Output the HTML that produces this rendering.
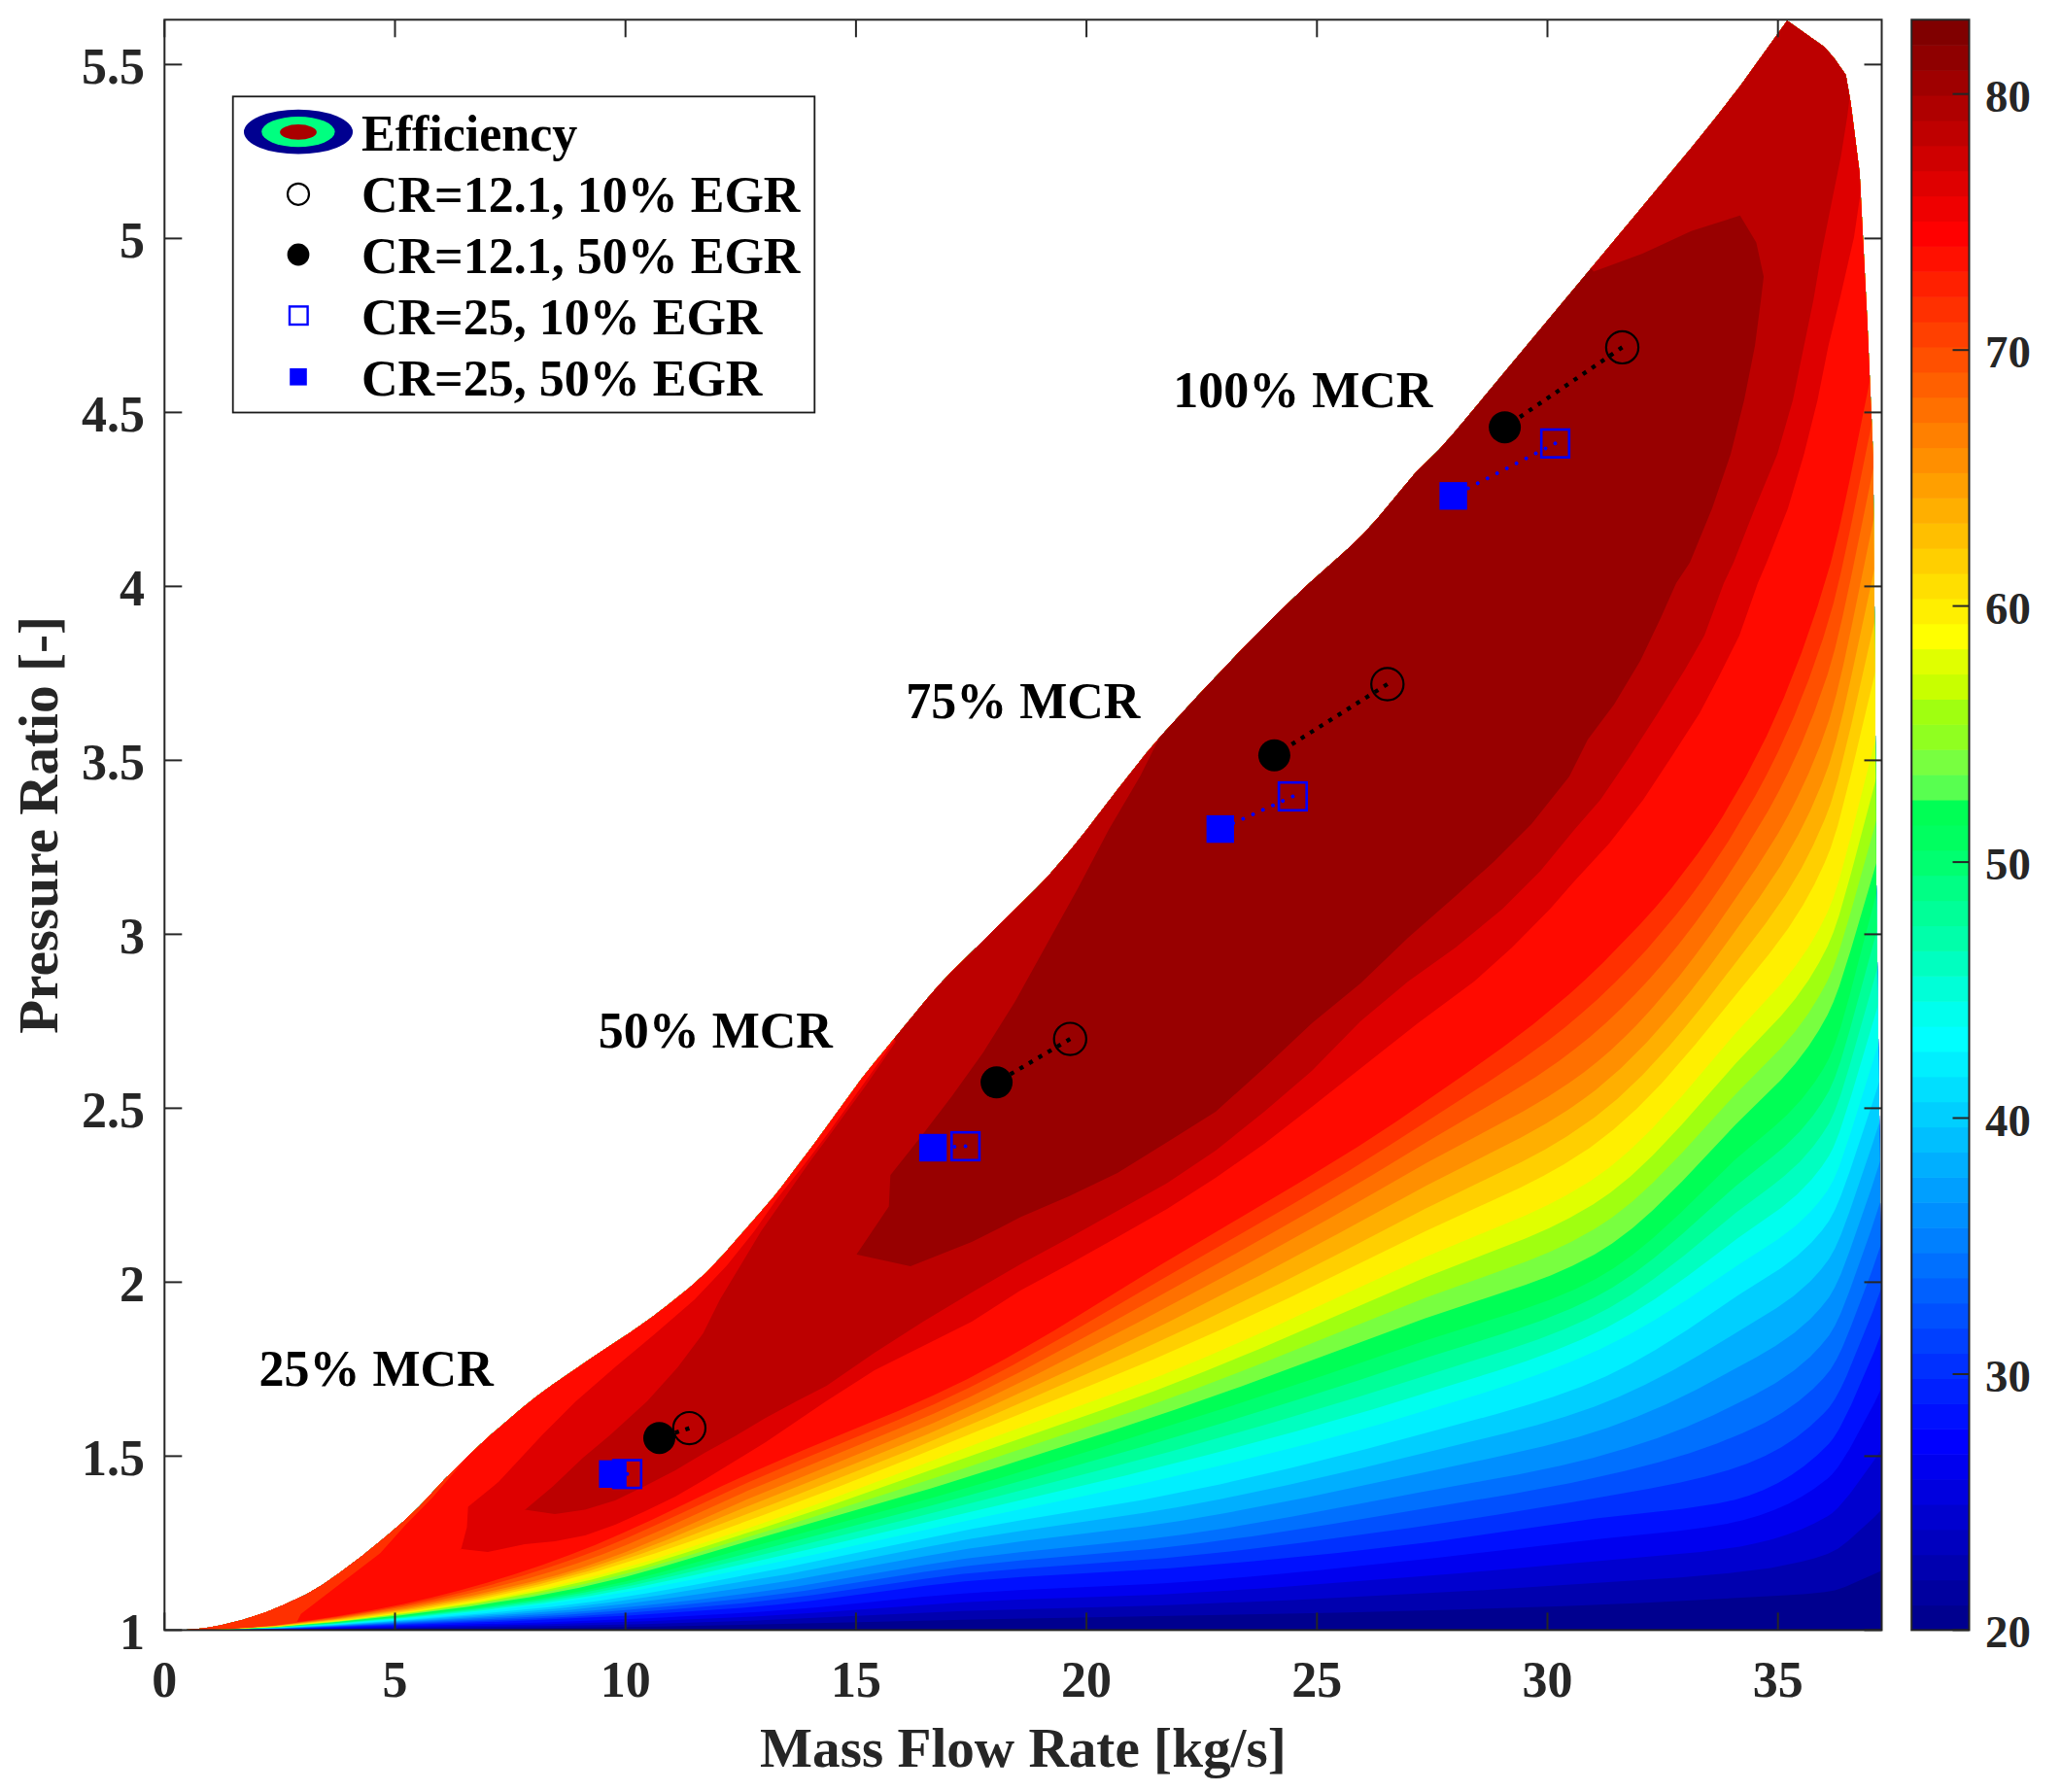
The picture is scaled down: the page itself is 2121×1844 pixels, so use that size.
<!DOCTYPE html>
<html><head><meta charset="utf-8"><title>Compressor map</title><style>html,body{margin:0;padding:0;background:#fff;}
svg{display:block;}
text{font-family:"Liberation Serif","Times New Roman",serif;font-weight:bold;}
.tk{font-size:52px;fill:#262626;}
.cb{font-size:46.8px;fill:#262626;}
.lab{font-size:57.2px;fill:#262626;}
.lg{font-size:52px;fill:#000;}
.an{font-size:52px;fill:#000;}</style></head><body>
<svg xmlns="http://www.w3.org/2000/svg" width="2121" height="1844" viewBox="0 0 2121 1844">
<defs>
<clipPath id="dom"><path d="M169.3,1677.4 L185.7,1677.4 L210.3,1675.4 L227.0,1672.6 L250.4,1666.7 L273.8,1658.9 L291.3,1651.8 L314.6,1640.9 L332.0,1630.8 L349.5,1618.6 L373.1,1600.7 L396.1,1582.0 L414.5,1566.3 L431.5,1550.3 L457.2,1522.6 L483.4,1496.4 L504.3,1477.1 L536.8,1449.2 L552.4,1436.8 L569.2,1424.6 L613.7,1394.1 L649.5,1370.5 L670.1,1356.0 L686.5,1343.5 L709.6,1324.9 L727.1,1309.3 L744.6,1290.7 L779.9,1250.6 L796.9,1230.7 L806.9,1218.1 L840.3,1173.7 L885.9,1111.0 L898.0,1095.8 L951.5,1030.8 L965.7,1014.3 L978.7,1000.6 L1066.9,913.7 L1079.5,900.5 L1098.5,878.4 L1117.5,854.9 L1148.9,813.9 L1179.7,775.0 L1196.0,756.0 L1233.1,715.5 L1272.8,673.6 L1314.3,631.4 L1344.8,602.4 L1387.1,564.8 L1402.4,550.1 L1417.1,533.9 L1456.9,486.3 L1480.7,463.1 L1496.1,445.8 L1740.5,152.3 L1766.7,119.7 L1790.7,88.7 L1839.2,21.2 L1877.7,48.5 L1887.8,60.2 L1899.5,77.0 L1904.5,105.4 L1913.7,177.4 L1921.6,330.0 L1927.7,468.8 L1929.7,700.0 L1930.9,900.0 L1934.7,1200.0 L1936.5,1400.0 L1936.5,1677.4 Z"/></clipPath>
<clipPath id="g30"><path d="M860.0,1330.0 L882.0,1290.0 L914.7,1241.6 L916.3,1209.3 L947.1,1170.4 L979.4,1128.3 L1011.8,1083.0 L1044.2,1031.3 L1076.5,973.0 L1108.9,914.8 L1141.3,853.3 L1173.6,798.3 L1193.0,759.4 L1185.0,742.0 L1625.0,258.0 L1640.0,279.5 L1690.2,261.1 L1740.5,237.7 L1790.7,221.8 L1807.4,249.4 L1815.0,284.6 L1830.0,330.0 L1900.0,500.0 L2100.0,700.0 L2100.0,1800.0 L860.0,1800.0 Z"/></clipPath>
<clipPath id="g29"><path d="M500.0,1580.0 L541.0,1553.0 L569.0,1529.5 L600.0,1500.0 L627.5,1477.0 L665.9,1442.0 L697.4,1407.0 L723.6,1372.0 L741.0,1337.0 L762.0,1302.3 L783.0,1267.3 L807.4,1232.4 L831.9,1197.5 L856.0,1165.0 L891.0,1117.0 L922.0,1072.0 L910.0,1055.0 L1820.0,-20.0 L2100.0,-20.0 L2100.0,1800.0 L500.0,1800.0 Z"/></clipPath>
<clipPath id="f26"><path d="M169.3,1677.4 L197.8,1677.1 L235.3,1675.8 L259.3,1674.4 L281.8,1672.4 L316.3,1668.3 L346.3,1664.1 L382.3,1658.2 L416.8,1651.8 L446.8,1645.4 L476.8,1638.3 L506.8,1630.4 L536.8,1621.8 L565.3,1612.8 L592.3,1603.5 L617.8,1593.9 L643.3,1583.4 L677.8,1568.1 L770.8,1524.9 L824.8,1502.0 L923.8,1461.3 L961.3,1445.1 L997.3,1428.1 L1042.3,1404.8 L1102.3,1371.1 L1193.8,1317.5 L1330.3,1239.0 L1387.3,1205.2 L1429.3,1179.1 L1534.3,1111.5 L1565.8,1090.4 L1592.8,1070.9 L1610.8,1056.9 L1627.3,1043.1 L1643.8,1028.4 L1661.8,1011.2 L1678.3,994.6 L1694.8,976.9 L1724.8,941.6 L1739.8,922.3 L1753.3,903.7 L1778.8,865.4 L1805.8,820.0 L1817.8,797.8 L1829.8,773.8 L1846.3,737.2 L1861.3,699.5 L1876.3,656.5 L1886.8,621.0 L1894.3,590.1 L1903.3,548.6 L1928.8,423.4 L1945.3,338.2 L1946.0,-50.0 L150.0,-50.0 L150.0,1677.4 L169.3,1677.4 Z"/></clipPath>
<clipPath id="g28"><path d="M460.0,1610.0 L474.7,1593.5 L480.5,1571.4 L481.7,1550.4 L513.2,1524.8 L557.6,1477.0 L592.6,1442.0 L632.8,1407.0 L674.7,1372.1 L714.8,1337.2 L748.0,1302.3 L776.0,1267.3 L800.4,1232.4 L828.4,1197.5 L853.0,1165.0 L889.0,1115.0 L921.0,1070.0 L905.0,1055.0 L1820.0,-20.0 L2100.0,-20.0 L2100.0,1800.0 L460.0,1800.0 Z"/></clipPath>
</defs>
<g clip-path="url(#dom)">
<path fill="#00008F" d="M169.3,1677.4 L190.0,1677.2 L221.4,1673.7 L256.3,1664.9 L291.3,1651.8 L326.2,1634.4 L361.1,1609.9 L396.1,1582.0 L422.3,1559.3 L439.7,1541.8 L457.2,1522.6 L483.4,1496.4 L509.6,1472.5 L552.4,1436.8 L604.8,1400.1 L657.2,1365.2 L692.1,1339.0 L727.1,1309.3 L762.0,1270.8 L796.9,1230.7 L825.0,1194.0 L849.1,1161.7 L885.9,1111.0 L922.8,1066.0 L965.7,1014.3 L1003.6,976.4 L1041.6,938.4 L1079.5,900.5 L1117.5,854.9 L1155.4,805.6 L1196.0,756.0 L1272.8,673.6 L1334.2,612.2 L1395.5,556.9 L1426.2,523.2 L1456.9,486.3 L1487.6,455.6 L1549.0,382.0 L1610.4,308.3 L1640.0,272.8 L1690.2,212.6 L1740.5,152.3 L1790.7,88.7 L1824.2,41.8 L1839.2,21.2 L1857.6,34.3 L1877.7,48.5 L1887.8,60.2 L1899.5,77.0 L1904.5,105.4 L1909.5,143.9 L1913.7,177.4 L1916.2,227.6 L1918.8,277.9 L1921.6,330.0 L1927.7,468.8 L1929.7,700.0 L1930.9,900.0 L1934.7,1200.0 L1936.5,1400.0 L1936.5,1677.4 Z"/>
<path fill="#0000AF" d="M169.3,1677.4 L293.8,1677.1 L535.3,1675.5 L677.8,1673.8 L1003.3,1666.6 L1376.8,1659.5 L1502.8,1656.2 L1609.3,1652.8 L1688.8,1649.4 L1834.3,1641.8 L1858.3,1640.2 L1877.8,1638.3 L1888.3,1636.4 L1898.8,1632.9 L1930.3,1619.1 L1945.3,1611.9 L1946.0,-50.0 L150.0,-50.0 L150.0,1677.4 L169.3,1677.4 Z"/>
<path fill="#0000CF" d="M169.3,1677.4 L310.3,1676.7 L562.3,1673.3 L662.8,1671.2 L772.3,1667.8 L991.3,1657.8 L1195.3,1651.9 L1330.3,1646.5 L1531.3,1636.0 L1729.3,1623.3 L1781.8,1618.6 L1822.3,1613.4 L1853.8,1607.1 L1867.3,1603.5 L1880.8,1599.1 L1891.3,1593.7 L1901.8,1585.7 L1928.8,1561.2 L1945.3,1544.4 L1946.0,-50.0 L150.0,-50.0 L150.0,1677.4 L169.3,1677.4 Z"/>
<path fill="#0000EF" d="M169.3,1677.4 L311.8,1676.4 L556.3,1671.5 L665.8,1668.2 L775.3,1663.4 L839.8,1659.6 L991.3,1648.7 L1048.3,1646.1 L1190.8,1640.9 L1303.3,1634.3 L1501.3,1619.0 L1750.3,1597.0 L1790.8,1591.4 L1807.3,1588.1 L1823.8,1583.9 L1838.8,1579.3 L1853.8,1573.7 L1867.3,1567.6 L1880.8,1560.3 L1885.3,1557.2 L1891.3,1551.8 L1903.3,1537.8 L1928.8,1502.6 L1945.3,1476.9 L1946.0,-50.0 L150.0,-50.0 L150.0,1677.4 L169.3,1677.4 Z"/>
<path fill="#0010FF" d="M169.3,1677.4 L248.8,1677.0 L313.3,1676.0 L553.3,1669.7 L667.3,1665.2 L776.8,1659.0 L841.3,1653.9 L950.8,1643.1 L991.3,1639.7 L1048.3,1636.3 L1189.3,1629.7 L1238.8,1626.4 L1291.3,1622.0 L1360.3,1615.4 L1478.8,1602.9 L1649.8,1583.2 L1726.3,1575.5 L1756.3,1571.6 L1777.3,1568.0 L1793.8,1564.3 L1810.3,1559.6 L1825.3,1554.1 L1840.3,1547.5 L1853.8,1540.2 L1867.3,1531.7 L1880.8,1521.5 L1885.3,1517.2 L1891.3,1509.9 L1903.3,1491.2 L1928.8,1443.9 L1945.3,1409.4 L1946.0,-50.0 L150.0,-50.0 L150.0,1677.4 L169.3,1677.4 Z"/>
<path fill="#0030FF" d="M169.3,1677.4 L247.3,1676.9 L308.8,1675.7 L524.8,1668.3 L646.3,1662.5 L763.3,1654.5 L799.3,1651.3 L835.3,1647.3 L952.3,1631.7 L992.8,1627.2 L1051.3,1622.8 L1204.3,1613.7 L1289.8,1606.6 L1376.8,1597.9 L1477.3,1586.3 L1642.3,1562.5 L1730.8,1552.7 L1766.8,1547.3 L1784.8,1543.4 L1799.8,1539.0 L1814.8,1533.2 L1829.8,1525.9 L1843.3,1517.9 L1856.8,1508.4 L1870.3,1497.2 L1882.3,1485.5 L1886.8,1479.7 L1892.8,1470.2 L1904.8,1446.2 L1928.8,1390.8 L1945.3,1347.6 L1946.0,-50.0 L150.0,-50.0 L150.0,1677.4 L169.3,1677.4 Z"/>
<path fill="#0050FF" d="M169.3,1677.4 L248.8,1676.8 L313.3,1675.3 L533.8,1666.2 L589.3,1663.4 L647.8,1659.5 L707.8,1654.8 L764.8,1649.7 L835.3,1641.6 L950.8,1624.7 L991.3,1619.6 L1049.8,1614.3 L1196.8,1603.5 L1265.8,1596.4 L1339.3,1587.5 L1453.3,1571.9 L1540.3,1558.8 L1619.8,1545.5 L1697.8,1531.7 L1729.3,1525.6 L1754.8,1519.6 L1778.8,1512.8 L1798.3,1506.0 L1816.3,1498.2 L1832.8,1489.4 L1847.8,1479.7 L1862.8,1467.8 L1876.3,1455.0 L1882.3,1448.4 L1888.3,1439.7 L1894.3,1428.8 L1900.3,1416.1 L1927.3,1349.8 L1945.3,1300.2 L1946.0,-50.0 L150.0,-50.0 L150.0,1677.4 L169.3,1677.4 Z"/>
<path fill="#0070FF" d="M169.3,1677.4 L247.3,1676.8 L307.3,1675.2 L524.8,1665.0 L581.8,1661.7 L629.8,1658.1 L686.8,1653.0 L745.3,1647.1 L788.8,1642.1 L827.8,1636.9 L950.8,1617.6 L992.8,1611.7 L1049.8,1605.7 L1186.3,1593.8 L1235.8,1588.0 L1288.3,1580.9 L1369.3,1568.5 L1556.8,1537.2 L1616.8,1525.9 L1670.8,1513.9 L1706.8,1504.7 L1738.3,1495.4 L1766.8,1485.5 L1793.8,1474.5 L1816.3,1463.9 L1834.3,1453.6 L1850.8,1442.1 L1865.8,1429.2 L1876.3,1418.4 L1883.8,1409.3 L1889.8,1399.2 L1895.8,1386.9 L1904.8,1365.1 L1925.8,1309.4 L1945.3,1252.8 L1946.0,-50.0 L150.0,-50.0 L150.0,1677.4 L169.3,1677.4 Z"/>
<path fill="#008FFF" d="M169.3,1677.4 L244.3,1676.7 L299.8,1675.2 L355.3,1672.7 L506.8,1664.3 L566.8,1660.6 L610.3,1657.2 L665.8,1651.8 L722.8,1645.4 L779.8,1638.2 L820.3,1632.4 L952.3,1610.2 L994.3,1603.8 L1049.8,1597.2 L1178.8,1584.1 L1216.3,1579.3 L1258.3,1573.0 L1330.3,1560.6 L1459.3,1536.0 L1562.8,1517.2 L1604.8,1508.6 L1639.3,1500.2 L1673.8,1490.3 L1705.3,1479.9 L1735.3,1468.5 L1763.8,1456.1 L1804.3,1436.0 L1826.8,1423.5 L1846.3,1410.2 L1862.8,1396.2 L1873.3,1385.3 L1882.3,1374.3 L1888.3,1364.2 L1894.3,1351.5 L1903.3,1328.6 L1925.8,1265.1 L1945.3,1205.3 L1946.0,-50.0 L150.0,-50.0 L150.0,1677.4 L169.3,1677.4 Z"/>
<path fill="#00AFFF" d="M169.3,1677.4 L239.8,1676.8 L289.3,1675.4 L349.3,1672.6 L454.3,1666.2 L533.8,1660.8 L587.8,1656.4 L640.3,1650.8 L697.3,1643.6 L772.3,1632.8 L814.3,1626.2 L953.8,1600.9 L997.3,1593.6 L1051.3,1586.1 L1177.3,1570.6 L1214.8,1565.0 L1258.3,1557.6 L1346.8,1540.5 L1543.3,1498.6 L1588.3,1488.3 L1624.3,1478.7 L1654.3,1469.2 L1684.3,1458.1 L1714.3,1445.3 L1745.8,1430.1 L1807.3,1396.7 L1826.8,1385.3 L1846.3,1371.8 L1862.8,1357.4 L1873.3,1346.3 L1882.3,1334.9 L1888.3,1324.5 L1894.3,1311.4 L1903.3,1287.8 L1925.8,1222.9 L1945.3,1162.6 L1946.0,-50.0 L150.0,-50.0 L150.0,1677.4 L169.3,1677.4 Z"/>
<path fill="#00CFFF" d="M169.3,1677.4 L236.8,1676.8 L284.8,1675.4 L346.3,1672.3 L433.3,1666.6 L515.8,1660.4 L575.8,1655.0 L625.3,1649.2 L679.3,1641.6 L809.8,1619.9 L955.3,1591.5 L998.8,1583.5 L1051.3,1575.2 L1175.8,1557.1 L1211.8,1551.0 L1256.8,1542.5 L1325.8,1528.0 L1402.3,1510.4 L1550.8,1474.5 L1582.3,1466.2 L1610.8,1457.7 L1640.8,1447.5 L1666.3,1437.3 L1693.3,1424.8 L1721.8,1409.9 L1750.3,1393.5 L1828.3,1346.1 L1846.3,1333.3 L1862.8,1318.7 L1873.3,1307.2 L1882.3,1295.6 L1888.3,1284.8 L1894.3,1271.2 L1903.3,1247.0 L1927.3,1176.3 L1945.3,1119.8 L1946.0,-50.0 L150.0,-50.0 L150.0,1677.4 L169.3,1677.4 Z"/>
<path fill="#00EFFF" d="M169.3,1677.4 L236.8,1676.7 L283.3,1675.3 L344.8,1672.0 L422.8,1666.5 L500.8,1660.0 L565.3,1653.7 L613.3,1647.7 L665.8,1639.6 L713.8,1631.0 L808.3,1613.1 L1001.8,1573.1 L1051.3,1564.2 L1174.3,1543.7 L1255.3,1527.4 L1328.8,1510.6 L1405.3,1491.3 L1540.3,1455.0 L1571.8,1445.8 L1598.8,1437.2 L1627.3,1426.9 L1652.8,1416.2 L1678.3,1403.5 L1703.8,1389.1 L1736.8,1368.2 L1789.3,1332.4 L1832.8,1304.9 L1849.3,1292.4 L1864.3,1278.4 L1874.8,1266.4 L1882.3,1256.2 L1888.3,1245.1 L1894.3,1231.1 L1903.3,1206.2 L1927.3,1134.1 L1945.3,1077.0 L1946.0,-50.0 L150.0,-50.0 L150.0,1677.4 L169.3,1677.4 Z"/>
<path fill="#00FFEE" d="M169.3,1677.4 L236.8,1676.6 L283.3,1675.1 L346.3,1671.3 L424.3,1665.2 L497.8,1658.1 L563.8,1650.5 L614.8,1643.3 L668.8,1633.9 L721.3,1623.7 L835.3,1600.2 L1018.3,1559.8 L1174.3,1527.1 L1262.8,1506.6 L1348.3,1485.2 L1420.3,1465.6 L1522.3,1434.7 L1555.3,1424.0 L1583.8,1414.0 L1616.8,1401.3 L1646.8,1388.2 L1675.3,1373.9 L1703.8,1357.7 L1736.8,1337.0 L1787.8,1302.2 L1829.8,1275.2 L1847.8,1261.5 L1862.8,1247.3 L1871.8,1237.1 L1880.8,1225.1 L1886.8,1214.3 L1892.8,1200.2 L1904.8,1164.8 L1931.8,1078.0 L1945.3,1031.9 L1946.0,-50.0 L150.0,-50.0 L150.0,1677.4 L169.3,1677.4 Z"/>
<path fill="#00FFC0" d="M169.3,1677.4 L235.3,1676.6 L281.8,1675.0 L343.3,1671.2 L419.8,1664.8 L493.3,1657.4 L559.3,1649.4 L608.8,1641.9 L659.8,1632.5 L709.3,1622.0 L872.8,1585.3 L1157.8,1518.4 L1240.3,1497.8 L1333.3,1473.1 L1412.8,1450.3 L1540.3,1410.8 L1571.8,1400.2 L1598.8,1390.3 L1627.3,1378.6 L1652.8,1366.5 L1678.3,1352.3 L1703.8,1336.2 L1736.8,1313.0 L1787.8,1274.5 L1832.8,1243.1 L1849.3,1229.3 L1864.3,1213.8 L1874.8,1200.6 L1882.3,1189.3 L1886.8,1180.4 L1892.8,1165.5 L1904.8,1128.4 L1931.8,1037.5 L1945.3,989.3 L1946.0,-50.0 L150.0,-50.0 L150.0,1677.4 L169.3,1677.4 Z"/>
<path fill="#00FF98" d="M169.3,1677.4 L235.3,1676.6 L281.8,1674.8 L343.3,1670.8 L416.8,1664.3 L490.3,1656.5 L556.3,1648.1 L604.3,1640.5 L653.8,1630.7 L700.3,1620.1 L931.3,1564.1 L1129.3,1513.6 L1204.3,1493.7 L1309.3,1464.1 L1397.8,1437.6 L1552.3,1388.8 L1582.3,1378.4 L1609.3,1368.0 L1634.8,1356.8 L1655.8,1346.0 L1678.3,1332.4 L1702.3,1315.8 L1733.8,1291.5 L1786.3,1248.0 L1822.3,1221.3 L1835.8,1210.6 L1852.3,1195.4 L1865.8,1180.0 L1874.8,1167.8 L1882.3,1155.9 L1888.3,1142.8 L1894.3,1126.4 L1903.3,1097.3 L1928.8,1007.8 L1945.3,946.8 L1946.0,-50.0 L150.0,-50.0 L150.0,1677.4 L169.3,1677.4 Z"/>
<path fill="#00FF70" d="M169.3,1677.4 L235.3,1676.5 L280.3,1674.8 L341.8,1670.5 L413.8,1663.9 L487.3,1655.7 L551.8,1647.1 L599.8,1639.1 L647.8,1629.2 L689.8,1618.9 L956.8,1549.8 L1085.8,1514.2 L1181.8,1487.0 L1258.3,1464.2 L1333.3,1441.1 L1397.8,1420.4 L1471.3,1396.0 L1547.8,1372.1 L1585.3,1359.2 L1616.8,1346.6 L1640.8,1335.3 L1658.8,1325.3 L1679.8,1311.4 L1702.3,1294.4 L1730.8,1270.3 L1786.3,1220.4 L1823.8,1190.6 L1835.8,1180.4 L1852.3,1164.3 L1865.8,1148.0 L1874.8,1135.1 L1882.3,1122.5 L1888.3,1108.7 L1894.3,1091.6 L1903.3,1061.1 L1928.8,967.8 L1945.3,904.3 L1946.0,-50.0 L150.0,-50.0 L150.0,1677.4 L169.3,1677.4 Z"/>
<path fill="#00FF55" d="M169.3,1677.4 L235.3,1676.5 L280.3,1674.6 L340.3,1670.3 L412.3,1663.4 L484.3,1654.9 L548.8,1645.9 L596.8,1637.6 L643.3,1627.4 L680.8,1617.7 L761.8,1594.8 L961.3,1540.7 L1025.8,1521.9 L1127.8,1490.9 L1274.8,1444.3 L1367.8,1413.5 L1468.3,1378.9 L1561.3,1349.6 L1594.3,1337.7 L1621.3,1326.4 L1642.3,1316.0 L1660.3,1305.3 L1679.8,1291.4 L1700.8,1274.3 L1729.3,1248.2 L1784.8,1194.1 L1825.3,1159.7 L1838.8,1147.4 L1853.8,1131.4 L1867.3,1113.9 L1876.3,1099.9 L1882.3,1089.0 L1888.3,1074.6 L1894.3,1056.7 L1903.3,1024.9 L1928.8,927.8 L1945.3,861.7 L1946.0,-50.0 L150.0,-50.0 L150.0,1677.4 L169.3,1677.4 Z"/>
<path fill="#78FF40" d="M169.3,1677.4 L235.3,1676.4 L280.3,1674.4 L341.8,1669.6 L412.3,1662.2 L481.3,1653.4 L545.8,1643.4 L595.3,1634.0 L643.3,1622.7 L683.8,1611.6 L760.3,1588.7 L958.3,1531.5 L1034.8,1507.6 L1142.8,1472.8 L1208.8,1450.7 L1277.8,1426.4 L1466.8,1356.5 L1570.3,1322.1 L1595.8,1312.4 L1618.3,1302.5 L1640.8,1291.0 L1658.8,1279.8 L1679.8,1264.0 L1700.8,1245.6 L1730.8,1216.0 L1786.3,1157.0 L1832.8,1111.2 L1847.8,1094.2 L1861.3,1076.4 L1871.8,1060.3 L1880.8,1044.3 L1886.8,1031.1 L1892.8,1015.0 L1904.8,977.0 L1931.8,885.2 L1945.3,837.0 L1946.0,-50.0 L150.0,-50.0 L150.0,1677.4 L169.3,1677.4 Z"/>
<path fill="#A0FF10" d="M169.3,1677.4 L235.3,1676.4 L281.8,1674.2 L346.3,1668.8 L419.8,1660.6 L487.3,1651.2 L551.8,1640.3 L601.3,1630.1 L652.3,1617.2 L704.8,1601.7 L835.3,1561.4 L917.8,1535.2 L989.8,1511.7 L1175.8,1448.9 L1231.3,1428.7 L1291.3,1405.8 L1466.8,1335.5 L1570.3,1298.2 L1594.3,1288.4 L1616.8,1277.9 L1640.8,1264.8 L1658.8,1253.0 L1679.8,1236.4 L1700.8,1217.3 L1730.8,1186.6 L1786.3,1125.7 L1832.8,1078.4 L1847.8,1060.9 L1861.3,1042.4 L1871.8,1025.6 L1880.8,1009.1 L1886.8,995.2 L1892.8,978.3 L1904.8,938.1 L1931.8,841.2 L1945.3,790.4 L1946.0,-50.0 L150.0,-50.0 L150.0,1677.4 L169.3,1677.4 Z"/>
<path fill="#E0FF00" d="M169.3,1677.4 L236.8,1676.3 L284.8,1673.8 L350.8,1668.0 L425.8,1659.1 L493.3,1648.9 L557.8,1637.1 L608.8,1625.6 L662.8,1610.9 L703.3,1598.5 L782.8,1572.9 L857.8,1547.9 L1135.3,1450.4 L1187.8,1431.4 L1240.3,1411.0 L1295.8,1388.2 L1466.8,1314.5 L1570.3,1274.3 L1594.3,1263.7 L1615.3,1253.3 L1639.3,1239.6 L1657.3,1227.3 L1678.3,1210.2 L1700.8,1189.0 L1730.8,1157.3 L1786.3,1094.3 L1832.8,1045.5 L1847.8,1027.5 L1861.3,1008.4 L1871.8,991.0 L1880.8,973.8 L1886.8,959.3 L1892.8,941.6 L1904.8,899.3 L1931.8,797.3 L1945.3,743.8 L1946.0,-50.0 L150.0,-50.0 L150.0,1677.4 L169.3,1677.4 Z"/>
<path fill="#FFEF00" d="M169.3,1677.4 L238.3,1676.2 L286.3,1673.6 L356.8,1666.9 L433.3,1657.2 L500.8,1646.2 L563.8,1633.7 L617.8,1620.5 L674.8,1604.0 L773.8,1571.3 L835.3,1549.7 L893.8,1528.0 L1019.8,1480.0 L1145.8,1434.1 L1195.3,1415.2 L1244.8,1394.7 L1298.8,1371.0 L1466.8,1293.4 L1570.3,1250.4 L1592.8,1239.9 L1612.3,1229.7 L1636.3,1215.4 L1655.8,1201.7 L1676.8,1184.0 L1699.3,1162.3 L1730.8,1127.9 L1786.3,1062.9 L1832.8,1012.7 L1847.8,994.1 L1861.3,974.4 L1871.8,956.4 L1880.8,938.5 L1886.8,923.4 L1892.8,904.9 L1904.8,860.4 L1931.8,753.3 L1945.3,697.2 L1946.0,-50.0 L150.0,-50.0 L150.0,1677.4 L169.3,1677.4 Z"/>
<path fill="#FFCF00" d="M169.3,1677.4 L238.3,1676.1 L287.8,1673.3 L359.8,1666.2 L433.3,1656.3 L497.8,1644.9 L560.8,1631.3 L614.8,1617.1 L673.3,1598.8 L713.8,1584.9 L784.3,1559.6 L865.3,1529.0 L932.8,1502.3 L1126.3,1424.0 L1187.8,1398.5 L1256.8,1367.9 L1328.8,1334.5 L1466.8,1267.0 L1564.3,1222.2 L1588.3,1210.0 L1609.3,1198.2 L1636.3,1180.9 L1660.3,1162.6 L1684.3,1141.0 L1709.8,1114.9 L1744.3,1075.3 L1820.8,981.4 L1840.3,955.2 L1855.3,931.8 L1867.3,909.9 L1877.8,887.7 L1883.8,872.9 L1891.3,849.5 L1904.8,797.0 L1931.8,683.3 L1945.3,623.6 L1946.0,-50.0 L150.0,-50.0 L150.0,1677.4 L169.3,1677.4 Z"/>
<path fill="#FFAF00" d="M169.3,1677.4 L236.8,1676.1 L284.8,1673.3 L353.8,1666.1 L427.3,1655.8 L491.8,1644.2 L554.8,1630.3 L607.3,1616.2 L659.8,1599.1 L698.8,1584.8 L818.8,1538.7 L934.3,1492.9 L1028.8,1453.1 L1162.3,1394.6 L1237.3,1359.8 L1319.8,1319.4 L1382.8,1287.4 L1466.8,1243.8 L1565.8,1195.8 L1589.8,1183.0 L1612.3,1169.6 L1640.8,1150.1 L1664.8,1130.5 L1690.3,1106.3 L1717.3,1077.0 L1735.3,1055.8 L1753.3,1033.4 L1816.3,951.2 L1837.3,921.2 L1853.8,893.7 L1865.8,870.3 L1877.8,843.2 L1883.8,827.4 L1891.3,802.5 L1904.8,747.4 L1930.3,634.5 L1945.3,564.9 L1946.0,-50.0 L150.0,-50.0 L150.0,1677.4 L169.3,1677.4 Z"/>
<path fill="#FF8F00" d="M169.3,1677.4 L236.8,1676.0 L283.3,1673.1 L347.8,1666.1 L421.3,1655.5 L487.3,1643.3 L550.3,1629.1 L577.3,1622.1 L601.3,1615.1 L625.3,1607.3 L650.8,1598.3 L685.3,1584.9 L760.3,1553.7 L893.8,1500.6 L955.3,1475.4 L1015.3,1449.1 L1105.3,1407.4 L1204.3,1359.4 L1297.3,1311.9 L1372.3,1272.1 L1468.3,1219.7 L1565.8,1170.2 L1591.3,1155.9 L1613.8,1141.9 L1628.8,1131.5 L1642.3,1121.4 L1667.8,1099.5 L1694.8,1072.6 L1721.8,1042.1 L1739.8,1019.9 L1757.8,996.5 L1810.3,924.1 L1832.8,890.2 L1850.8,858.8 L1862.8,834.4 L1874.8,806.4 L1882.3,786.4 L1889.8,761.3 L1897.3,731.2 L1904.8,697.7 L1930.3,579.3 L1945.3,506.2 L1946.0,-50.0 L150.0,-50.0 L150.0,1677.4 L169.3,1677.4 Z"/>
<path fill="#FF7000" d="M169.3,1677.4 L235.3,1676.0 L281.8,1673.0 L344.8,1665.9 L416.8,1654.9 L485.8,1641.8 L548.8,1627.2 L574.3,1620.4 L598.3,1613.2 L620.8,1605.6 L644.8,1596.7 L683.8,1580.6 L767.8,1543.3 L919.3,1481.6 L961.3,1464.0 L1003.3,1445.1 L1066.3,1414.5 L1171.3,1360.7 L1285.3,1299.8 L1367.8,1253.9 L1468.3,1196.5 L1567.3,1143.8 L1592.8,1128.8 L1615.3,1114.0 L1630.3,1103.2 L1643.8,1092.5 L1657.3,1080.9 L1670.8,1068.3 L1684.3,1054.8 L1699.3,1038.6 L1727.8,1004.9 L1744.3,983.6 L1762.3,959.1 L1807.3,893.5 L1829.8,857.7 L1840.3,839.0 L1849.3,821.6 L1861.3,795.8 L1873.3,766.4 L1882.3,741.1 L1889.8,714.6 L1897.3,683.1 L1904.8,648.1 L1930.3,524.1 L1945.3,447.5 L1946.0,-50.0 L150.0,-50.0 L150.0,1677.4 L169.3,1677.4 Z"/>
<path fill="#FF5000" d="M169.3,1677.4 L235.3,1675.9 L281.8,1672.7 L346.3,1664.9 L416.8,1653.3 L448.3,1647.2 L481.3,1640.0 L512.8,1632.3 L542.8,1624.4 L569.8,1616.5 L595.3,1608.3 L619.3,1599.7 L644.8,1589.7 L680.8,1574.3 L769.3,1534.1 L922.3,1471.1 L961.3,1454.5 L998.8,1437.3 L1051.3,1410.9 L1138.3,1364.0 L1277.8,1286.6 L1358.8,1240.6 L1411.3,1209.8 L1474.3,1171.6 L1552.3,1125.8 L1580.8,1107.9 L1604.8,1091.4 L1621.3,1079.0 L1636.3,1066.9 L1652.8,1052.4 L1667.8,1038.2 L1682.8,1023.1 L1697.8,1006.9 L1712.8,989.7 L1727.8,971.4 L1744.3,949.9 L1759.3,929.2 L1774.3,907.2 L1792.3,879.5 L1819.3,834.9 L1829.8,815.7 L1840.3,795.1 L1853.8,765.7 L1867.3,732.3 L1880.8,694.0 L1888.3,667.8 L1895.8,636.6 L1904.8,594.7 L1930.3,470.0 L1945.3,392.8 L1946.0,-50.0 L150.0,-50.0 L150.0,1677.4 L169.3,1677.4 Z"/>
<path fill="#FF3000" d="M169.3,1677.4 L197.8,1677.1 L235.3,1675.8 L259.3,1674.4 L281.8,1672.4 L316.3,1668.3 L346.3,1664.1 L382.3,1658.2 L416.8,1651.8 L446.8,1645.4 L476.8,1638.3 L506.8,1630.4 L536.8,1621.8 L565.3,1612.8 L592.3,1603.5 L617.8,1593.9 L643.3,1583.4 L677.8,1568.1 L770.8,1524.9 L824.8,1502.0 L923.8,1461.3 L961.3,1445.1 L997.3,1428.1 L1042.3,1404.8 L1102.3,1371.1 L1193.8,1317.5 L1330.3,1239.0 L1387.3,1205.2 L1429.3,1179.1 L1534.3,1111.5 L1565.8,1090.4 L1592.8,1070.9 L1610.8,1056.9 L1627.3,1043.1 L1643.8,1028.4 L1661.8,1011.2 L1678.3,994.6 L1694.8,976.9 L1724.8,941.6 L1739.8,922.3 L1753.3,903.7 L1778.8,865.4 L1805.8,820.0 L1817.8,797.8 L1829.8,773.8 L1846.3,737.2 L1861.3,699.5 L1876.3,656.5 L1886.8,621.0 L1894.3,590.1 L1903.3,548.6 L1928.8,423.4 L1945.3,338.2 L1946.0,-50.0 L150.0,-50.0 L150.0,1677.4 L169.3,1677.4 Z"/>
<path fill="#FF0A00" d="M169.3,1677.4 L197.8,1677.0 L235.3,1675.7 L259.3,1674.2 L281.8,1672.1 L316.3,1667.7 L346.3,1663.3 L382.3,1657.0 L415.3,1650.5 L443.8,1644.1 L472.3,1636.8 L500.8,1628.8 L529.3,1620.0 L557.8,1610.4 L586.3,1600.0 L613.3,1589.4 L640.3,1577.8 L671.8,1563.4 L743.8,1528.8 L775.3,1514.4 L827.8,1491.8 L925.3,1451.4 L961.3,1435.6 L995.8,1419.0 L1036.3,1397.3 L1084.3,1369.4 L1195.3,1300.9 L1340.8,1214.8 L1397.8,1179.8 L1436.8,1154.3 L1510.3,1103.4 L1547.8,1076.7 L1577.8,1053.9 L1615.3,1022.8 L1631.8,1007.8 L1649.8,990.4 L1687.3,951.8 L1703.8,933.4 L1720.3,913.7 L1747.3,878.3 L1760.8,858.8 L1772.8,840.2 L1796.8,799.0 L1817.8,758.0 L1835.8,717.9 L1853.8,672.3 L1870.3,624.5 L1883.8,580.0 L1892.8,543.7 L1903.3,495.2 L1928.8,369.3 L1945.3,283.5 L1946.0,-50.0 L150.0,-50.0 L150.0,1677.4 L169.3,1677.4 Z"/>
<path fill="#FF3000" clip-path="url(#f26)" d="M169.3,1669.4 L173.2,1669.4 L177.2,1669.3 L181.1,1669.3 L185.0,1669.2 L189.0,1669.2 L192.9,1668.9 L196.8,1668.4 L200.8,1668.0 L204.7,1667.6 L208.6,1667.1 L212.6,1666.7 L216.5,1666.2 L220.4,1665.8 L224.4,1665.0 L228.3,1664.0 L232.2,1663.0 L236.2,1662.0 L240.1,1661.0 L244.0,1660.0 L248.0,1659.0 L251.9,1658.0 L255.8,1657.0 L259.8,1655.6 L263.7,1654.1 L267.6,1652.7 L271.6,1651.2 L275.5,1649.7 L279.4,1648.2 L283.4,1646.8 L287.3,1645.3 L291.2,1643.8 L295.2,1641.9 L299.1,1639.9 L303.0,1638.0 L307.0,1636.0 L310.9,1634.0 L314.8,1632.1 L318.8,1630.1 L322.7,1628.2 L326.6,1626.1 L330.5,1623.3 L334.5,1620.6 L338.4,1617.8 L342.3,1615.1 L346.3,1612.3 L350.2,1609.5 L354.1,1606.8 L358.1,1604.0 L362.0,1601.2 L365.9,1598.0 L369.9,1594.9 L373.8,1591.8 L377.7,1588.6 L381.7,1585.5 L385.6,1582.4 L389.5,1579.2 L393.5,1576.1 L397.4,1572.9 L401.3,1569.5 L405.3,1566.1 L409.2,1562.6 L413.1,1559.2 L417.1,1555.8 L421.0,1552.4 L424.9,1548.6 L428.9,1544.7 L432.8,1540.7 L436.7,1536.8 L440.7,1532.7 L444.6,1528.4 L448.5,1524.1 L452.5,1519.8 L456.4,1515.5 L460.3,1511.5 L464.3,1507.5 L468.2,1503.6 L472.1,1499.7 L476.1,1495.7 L480.0,1491.8 L480.0,1500.3 L445.1,1541.0 L417.5,1569.1 L391.3,1598.2 L353.4,1627.3 L309.7,1660.8 L300.0,1680.0 L169.3,1680.0 Z"/>
<path fill="#DE0000" clip-path="url(#g28)" d="M460.0,1600.0 L475.0,1594.0 L502.0,1597.0 L540.0,1589.0 L571.0,1586.0 L602.0,1580.0 L633.0,1569.0 L664.0,1555.0 L695.0,1540.0 L726.0,1522.0 L757.0,1503.0 L788.0,1484.0 L819.0,1463.0 L850.0,1442.0 L900.0,1410.0 L950.0,1385.0 L1000.0,1360.0 L1050.0,1328.0 L1100.0,1301.0 L1150.0,1273.0 L1201.0,1244.0 L1251.0,1212.0 L1301.0,1177.0 L1350.0,1139.0 L1400.0,1099.5 L1459.0,1053.0 L1517.0,1010.0 L1556.0,975.0 L1595.0,935.5 L1620.0,907.0 L1656.0,868.0 L1691.0,823.0 L1720.0,779.0 L1749.0,734.0 L1768.0,698.0 L1790.0,654.0 L1809.0,600.0 L1818.0,579.0 L1840.0,523.0 L1856.5,467.5 L1870.5,411.6 L1881.6,356.0 L1894.0,305.0 L1908.0,244.0 L1914.6,199.0 L1918.0,100.0 L1920.0,-20.0 L1920.0,-50.0 L460.0,-50.0 Z"/>
<path fill="#BC0000" clip-path="url(#g29)" d="M500.0,1556.0 L540.0,1553.5 L571.0,1558.0 L602.0,1553.5 L633.0,1544.0 L664.0,1529.0 L695.0,1513.0 L726.0,1494.5 L757.0,1477.5 L788.0,1459.0 L819.5,1442.0 L850.6,1426.0 L900.0,1392.0 L950.0,1360.0 L1000.0,1330.0 L1050.0,1301.0 L1100.0,1274.0 L1150.0,1246.0 L1201.0,1217.5 L1251.0,1184.0 L1301.0,1144.0 L1350.0,1102.0 L1400.0,1051.0 L1449.0,1010.0 L1498.0,975.0 L1546.0,935.5 L1585.0,896.5 L1620.0,854.0 L1647.0,823.0 L1677.0,779.0 L1706.0,734.0 L1734.0,689.0 L1754.0,654.0 L1774.0,600.0 L1784.0,579.0 L1806.0,523.0 L1829.0,467.5 L1845.0,412.0 L1856.5,356.0 L1866.0,310.0 L1874.4,261.0 L1884.4,211.0 L1894.5,161.0 L1901.2,119.0 L1906.0,80.0 L1910.0,-20.0 L1910.0,-50.0 L500.0,-50.0 Z"/>
<path fill="#980000" clip-path="url(#g30)" d="M850.0,1285.0 L882.0,1291.0 L937.0,1303.0 L1000.0,1278.0 L1028.0,1264.0 L1050.0,1252.6 L1100.0,1231.0 L1150.0,1207.0 L1200.0,1176.0 L1251.0,1144.0 L1301.0,1099.0 L1350.0,1053.0 L1400.0,1012.0 L1449.0,965.0 L1498.0,922.0 L1537.0,887.0 L1576.0,848.0 L1615.0,799.0 L1634.0,761.0 L1661.0,725.0 L1688.0,680.0 L1709.0,636.0 L1725.0,600.0 L1739.0,579.0 L1762.0,523.0 L1781.0,467.5 L1795.0,411.6 L1806.0,356.0 L1812.0,310.0 L1815.0,285.0 L1820.0,150.0 L1825.0,-20.0 L1825.0,-50.0 L850.0,-50.0 Z"/>
</g>
<line x1="1669.5" y1="357.4" x2="1548.6" y2="439.7" stroke="#000" stroke-width="4.3" stroke-dasharray="4.3 6.9"/>
<line x1="1600.5" y1="456.3" x2="1495.6" y2="510.3" stroke="#0000FF" stroke-width="3.9" stroke-dasharray="0.01 11.2" stroke-linecap="round"/>
<line x1="1427.8" y1="704.0" x2="1311.4" y2="777.2" stroke="#000" stroke-width="4.3" stroke-dasharray="4.3 6.9"/>
<line x1="1330.4" y1="819.5" x2="1255.8" y2="853.1" stroke="#0000FF" stroke-width="3.9" stroke-dasharray="0.01 11.2" stroke-linecap="round"/>
<line x1="1101.3" y1="1069.1" x2="1025.6" y2="1113.8" stroke="#000" stroke-width="4.3" stroke-dasharray="4.3 6.9"/>
<line x1="993.6" y1="1179.5" x2="960.1" y2="1181.0" stroke="#0000FF" stroke-width="3.9" stroke-dasharray="0.01 11.2" stroke-linecap="round"/>
<line x1="709.4" y1="1469.6" x2="678.5" y2="1479.7" stroke="#000" stroke-width="4.3" stroke-dasharray="4.3 6.9"/>
<line x1="645.5" y1="1516.8" x2="630.6" y2="1516.8" stroke="#0000FF" stroke-width="3.9" stroke-dasharray="0.01 11.2" stroke-linecap="round"/>
<circle cx="1669.5" cy="357.4" r="16.6" fill="none" stroke="#000" stroke-width="2.2"/>
<circle cx="1548.6" cy="439.7" r="16.5" fill="#000"/>
<rect x="1586.2" y="442.0" width="28.6" height="28.6" fill="none" stroke="#0000FF" stroke-width="2.6"/>
<rect x="1481.4" y="496.1" width="28.4" height="28.4" fill="#0000FF"/>
<circle cx="1427.8" cy="704.0" r="16.6" fill="none" stroke="#000" stroke-width="2.2"/>
<circle cx="1311.4" cy="777.2" r="16.5" fill="#000"/>
<rect x="1316.1" y="805.2" width="28.6" height="28.6" fill="none" stroke="#0000FF" stroke-width="2.6"/>
<rect x="1241.6" y="838.9" width="28.4" height="28.4" fill="#0000FF"/>
<circle cx="1101.3" cy="1069.1" r="16.6" fill="none" stroke="#000" stroke-width="2.2"/>
<circle cx="1025.6" cy="1113.8" r="16.5" fill="#000"/>
<rect x="979.3" y="1165.2" width="28.6" height="28.6" fill="none" stroke="#0000FF" stroke-width="2.6"/>
<rect x="945.9" y="1166.8" width="28.4" height="28.4" fill="#0000FF"/>
<circle cx="709.4" cy="1469.6" r="16.6" fill="none" stroke="#000" stroke-width="2.2"/>
<circle cx="678.5" cy="1479.7" r="16.5" fill="#000"/>
<rect x="631.2" y="1502.5" width="28.6" height="28.6" fill="none" stroke="#0000FF" stroke-width="2.6"/>
<rect x="616.4" y="1502.6" width="28.4" height="28.4" fill="#0000FF"/>
<rect x="169.3" y="20.3" width="1767.2" height="1657.1" fill="none" stroke="#262626" stroke-width="2"/>
<line x1="169.3" y1="1677.4" x2="169.3" y2="1659.4" stroke="#262626" stroke-width="2"/>
<line x1="169.3" y1="20.3" x2="169.3" y2="38.3" stroke="#262626" stroke-width="2"/>
<text x="169.3" y="1746.2" class="tk" text-anchor="middle">0</text>
<line x1="406.5" y1="1677.4" x2="406.5" y2="1659.4" stroke="#262626" stroke-width="2"/>
<line x1="406.5" y1="20.3" x2="406.5" y2="38.3" stroke="#262626" stroke-width="2"/>
<text x="406.5" y="1746.2" class="tk" text-anchor="middle">5</text>
<line x1="643.7" y1="1677.4" x2="643.7" y2="1659.4" stroke="#262626" stroke-width="2"/>
<line x1="643.7" y1="20.3" x2="643.7" y2="38.3" stroke="#262626" stroke-width="2"/>
<text x="643.7" y="1746.2" class="tk" text-anchor="middle">10</text>
<line x1="880.9" y1="1677.4" x2="880.9" y2="1659.4" stroke="#262626" stroke-width="2"/>
<line x1="880.9" y1="20.3" x2="880.9" y2="38.3" stroke="#262626" stroke-width="2"/>
<text x="880.9" y="1746.2" class="tk" text-anchor="middle">15</text>
<line x1="1118.1" y1="1677.4" x2="1118.1" y2="1659.4" stroke="#262626" stroke-width="2"/>
<line x1="1118.1" y1="20.3" x2="1118.1" y2="38.3" stroke="#262626" stroke-width="2"/>
<text x="1118.1" y="1746.2" class="tk" text-anchor="middle">20</text>
<line x1="1355.3" y1="1677.4" x2="1355.3" y2="1659.4" stroke="#262626" stroke-width="2"/>
<line x1="1355.3" y1="20.3" x2="1355.3" y2="38.3" stroke="#262626" stroke-width="2"/>
<text x="1355.3" y="1746.2" class="tk" text-anchor="middle">25</text>
<line x1="1592.5" y1="1677.4" x2="1592.5" y2="1659.4" stroke="#262626" stroke-width="2"/>
<line x1="1592.5" y1="20.3" x2="1592.5" y2="38.3" stroke="#262626" stroke-width="2"/>
<text x="1592.5" y="1746.2" class="tk" text-anchor="middle">30</text>
<line x1="1829.7" y1="1677.4" x2="1829.7" y2="1659.4" stroke="#262626" stroke-width="2"/>
<line x1="1829.7" y1="20.3" x2="1829.7" y2="38.3" stroke="#262626" stroke-width="2"/>
<text x="1829.7" y="1746.2" class="tk" text-anchor="middle">35</text>
<line x1="169.3" y1="1677.4" x2="187.3" y2="1677.4" stroke="#262626" stroke-width="2"/>
<line x1="1936.5" y1="1677.4" x2="1918.5" y2="1677.4" stroke="#262626" stroke-width="2"/>
<text x="149" y="1697.4" class="tk" text-anchor="end">1</text>
<line x1="169.3" y1="1498.4" x2="187.3" y2="1498.4" stroke="#262626" stroke-width="2"/>
<line x1="1936.5" y1="1498.4" x2="1918.5" y2="1498.4" stroke="#262626" stroke-width="2"/>
<text x="149" y="1518.4" class="tk" text-anchor="end">1.5</text>
<line x1="169.3" y1="1319.4" x2="187.3" y2="1319.4" stroke="#262626" stroke-width="2"/>
<line x1="1936.5" y1="1319.4" x2="1918.5" y2="1319.4" stroke="#262626" stroke-width="2"/>
<text x="149" y="1339.4" class="tk" text-anchor="end">2</text>
<line x1="169.3" y1="1140.4" x2="187.3" y2="1140.4" stroke="#262626" stroke-width="2"/>
<line x1="1936.5" y1="1140.4" x2="1918.5" y2="1140.4" stroke="#262626" stroke-width="2"/>
<text x="149" y="1160.4" class="tk" text-anchor="end">2.5</text>
<line x1="169.3" y1="961.4" x2="187.3" y2="961.4" stroke="#262626" stroke-width="2"/>
<line x1="1936.5" y1="961.4" x2="1918.5" y2="961.4" stroke="#262626" stroke-width="2"/>
<text x="149" y="981.4" class="tk" text-anchor="end">3</text>
<line x1="169.3" y1="782.4" x2="187.3" y2="782.4" stroke="#262626" stroke-width="2"/>
<line x1="1936.5" y1="782.4" x2="1918.5" y2="782.4" stroke="#262626" stroke-width="2"/>
<text x="149" y="802.4" class="tk" text-anchor="end">3.5</text>
<line x1="169.3" y1="603.4" x2="187.3" y2="603.4" stroke="#262626" stroke-width="2"/>
<line x1="1936.5" y1="603.4" x2="1918.5" y2="603.4" stroke="#262626" stroke-width="2"/>
<text x="149" y="623.4" class="tk" text-anchor="end">4</text>
<line x1="169.3" y1="424.4" x2="187.3" y2="424.4" stroke="#262626" stroke-width="2"/>
<line x1="1936.5" y1="424.4" x2="1918.5" y2="424.4" stroke="#262626" stroke-width="2"/>
<text x="149" y="444.4" class="tk" text-anchor="end">4.5</text>
<line x1="169.3" y1="245.4" x2="187.3" y2="245.4" stroke="#262626" stroke-width="2"/>
<line x1="1936.5" y1="245.4" x2="1918.5" y2="245.4" stroke="#262626" stroke-width="2"/>
<text x="149" y="265.4" class="tk" text-anchor="end">5</text>
<line x1="169.3" y1="66.4" x2="187.3" y2="66.4" stroke="#262626" stroke-width="2"/>
<line x1="1936.5" y1="66.4" x2="1918.5" y2="66.4" stroke="#262626" stroke-width="2"/>
<text x="149" y="86.4" class="tk" text-anchor="end">5.5</text>
<text x="1052.9" y="1817.6" class="lab" text-anchor="middle">Mass Flow Rate [kg/s]</text>
<text transform="translate(58.6 848.9) rotate(-90)" class="lab" text-anchor="middle">Pressure Ratio [-]</text>
<text x="266.5" y="1425.8" class="an">25% MCR</text>
<text x="615.7" y="1078.2" class="an">50% MCR</text>
<text x="932.2" y="739.2" class="an">75% MCR</text>
<text x="1207.2" y="419.1" class="an">100% MCR</text>
<rect x="239.7" y="99.3" width="598.6" height="325.2" fill="#fff" stroke="#1a1a1a" stroke-width="1.8"/>
<ellipse cx="307" cy="135.7" rx="56" ry="22.9" fill="#000090"/>
<ellipse cx="306.9" cy="135.6" rx="37.7" ry="15.6" fill="#00FF80"/>
<ellipse cx="307" cy="135.9" rx="18.9" ry="7.8" fill="#AA0000"/>
<circle cx="307" cy="199.8" r="11" fill="none" stroke="#000" stroke-width="2.2"/>
<circle cx="307" cy="262" r="11.4" fill="#000"/>
<rect x="298" y="315.4" width="18.6" height="18.6" fill="none" stroke="#0000FF" stroke-width="2.4"/>
<rect x="298.2" y="379" width="17.6" height="17.6" fill="#0000FF"/>
<text x="372" y="154.7" class="lg">Efficiency</text>
<text x="372" y="217.9" class="lg">CR=12.1, 10% EGR</text>
<text x="372" y="281.0" class="lg">CR=12.1, 50% EGR</text>
<text x="372" y="344.2" class="lg">CR=25, 10% EGR</text>
<text x="372" y="407.4" class="lg">CR=25, 50% EGR</text>
<rect x="1967.2" y="1651.51" width="59.3" height="26.49" fill="#00008F"/>
<rect x="1967.2" y="1625.62" width="59.3" height="26.49" fill="#00009F"/>
<rect x="1967.2" y="1599.72" width="59.3" height="26.49" fill="#0000AF"/>
<rect x="1967.2" y="1573.83" width="59.3" height="26.49" fill="#0000BF"/>
<rect x="1967.2" y="1547.94" width="59.3" height="26.49" fill="#0000CF"/>
<rect x="1967.2" y="1522.05" width="59.3" height="26.49" fill="#0000DF"/>
<rect x="1967.2" y="1496.15" width="59.3" height="26.49" fill="#0000EF"/>
<rect x="1967.2" y="1470.26" width="59.3" height="26.49" fill="#0000FF"/>
<rect x="1967.2" y="1444.37" width="59.3" height="26.49" fill="#0010FF"/>
<rect x="1967.2" y="1418.48" width="59.3" height="26.49" fill="#0020FF"/>
<rect x="1967.2" y="1392.59" width="59.3" height="26.49" fill="#0030FF"/>
<rect x="1967.2" y="1366.69" width="59.3" height="26.49" fill="#0040FF"/>
<rect x="1967.2" y="1340.80" width="59.3" height="26.49" fill="#0050FF"/>
<rect x="1967.2" y="1314.91" width="59.3" height="26.49" fill="#0060FF"/>
<rect x="1967.2" y="1289.02" width="59.3" height="26.49" fill="#0070FF"/>
<rect x="1967.2" y="1263.12" width="59.3" height="26.49" fill="#0080FF"/>
<rect x="1967.2" y="1237.23" width="59.3" height="26.49" fill="#008FFF"/>
<rect x="1967.2" y="1211.34" width="59.3" height="26.49" fill="#009FFF"/>
<rect x="1967.2" y="1185.45" width="59.3" height="26.49" fill="#00AFFF"/>
<rect x="1967.2" y="1159.56" width="59.3" height="26.49" fill="#00BFFF"/>
<rect x="1967.2" y="1133.66" width="59.3" height="26.49" fill="#00CFFF"/>
<rect x="1967.2" y="1107.77" width="59.3" height="26.49" fill="#00DFFF"/>
<rect x="1967.2" y="1081.88" width="59.3" height="26.49" fill="#00EFFF"/>
<rect x="1967.2" y="1055.99" width="59.3" height="26.49" fill="#00FFFF"/>
<rect x="1967.2" y="1030.10" width="59.3" height="26.49" fill="#00FFEE"/>
<rect x="1967.2" y="1004.20" width="59.3" height="26.49" fill="#00FFD8"/>
<rect x="1967.2" y="978.31" width="59.3" height="26.49" fill="#00FFC0"/>
<rect x="1967.2" y="952.42" width="59.3" height="26.49" fill="#00FFAA"/>
<rect x="1967.2" y="926.53" width="59.3" height="26.49" fill="#00FF98"/>
<rect x="1967.2" y="900.63" width="59.3" height="26.49" fill="#00FF85"/>
<rect x="1967.2" y="874.74" width="59.3" height="26.49" fill="#00FF70"/>
<rect x="1967.2" y="848.85" width="59.3" height="26.49" fill="#00FF60"/>
<rect x="1967.2" y="822.96" width="59.3" height="26.49" fill="#00FF55"/>
<rect x="1967.2" y="797.07" width="59.3" height="26.49" fill="#58FF50"/>
<rect x="1967.2" y="771.17" width="59.3" height="26.49" fill="#78FF40"/>
<rect x="1967.2" y="745.28" width="59.3" height="26.49" fill="#90FF20"/>
<rect x="1967.2" y="719.39" width="59.3" height="26.49" fill="#A0FF10"/>
<rect x="1967.2" y="693.50" width="59.3" height="26.49" fill="#C8FF00"/>
<rect x="1967.2" y="667.60" width="59.3" height="26.49" fill="#E0FF00"/>
<rect x="1967.2" y="641.71" width="59.3" height="26.49" fill="#FFFF00"/>
<rect x="1967.2" y="615.82" width="59.3" height="26.49" fill="#FFEF00"/>
<rect x="1967.2" y="589.93" width="59.3" height="26.49" fill="#FFDF00"/>
<rect x="1967.2" y="564.04" width="59.3" height="26.49" fill="#FFCF00"/>
<rect x="1967.2" y="538.14" width="59.3" height="26.49" fill="#FFBF00"/>
<rect x="1967.2" y="512.25" width="59.3" height="26.49" fill="#FFAF00"/>
<rect x="1967.2" y="486.36" width="59.3" height="26.49" fill="#FF9F00"/>
<rect x="1967.2" y="460.47" width="59.3" height="26.49" fill="#FF8F00"/>
<rect x="1967.2" y="434.58" width="59.3" height="26.49" fill="#FF8000"/>
<rect x="1967.2" y="408.68" width="59.3" height="26.49" fill="#FF7000"/>
<rect x="1967.2" y="382.79" width="59.3" height="26.49" fill="#FF6000"/>
<rect x="1967.2" y="356.90" width="59.3" height="26.49" fill="#FF5000"/>
<rect x="1967.2" y="331.01" width="59.3" height="26.49" fill="#FF4000"/>
<rect x="1967.2" y="305.11" width="59.3" height="26.49" fill="#FF3000"/>
<rect x="1967.2" y="279.22" width="59.3" height="26.49" fill="#FF2000"/>
<rect x="1967.2" y="253.33" width="59.3" height="26.49" fill="#FF1000"/>
<rect x="1967.2" y="227.44" width="59.3" height="26.49" fill="#FF0000"/>
<rect x="1967.2" y="201.55" width="59.3" height="26.49" fill="#EF0000"/>
<rect x="1967.2" y="175.65" width="59.3" height="26.49" fill="#DF0000"/>
<rect x="1967.2" y="149.76" width="59.3" height="26.49" fill="#CF0000"/>
<rect x="1967.2" y="123.87" width="59.3" height="26.49" fill="#BF0000"/>
<rect x="1967.2" y="97.98" width="59.3" height="26.49" fill="#AF0000"/>
<rect x="1967.2" y="72.08" width="59.3" height="26.49" fill="#9F0000"/>
<rect x="1967.2" y="46.19" width="59.3" height="26.49" fill="#8F0000"/>
<rect x="1967.2" y="20.30" width="59.3" height="26.49" fill="#800000"/>
<line x1="2026.5" y1="1677.4" x2="2009.5" y2="1677.4" stroke="#262626" stroke-width="2"/>
<text x="2043" y="1695.4" class="cb">20</text>
<line x1="2026.5" y1="1414.0" x2="2009.5" y2="1414.0" stroke="#262626" stroke-width="2"/>
<text x="2043" y="1432.0" class="cb">30</text>
<line x1="2026.5" y1="1150.5" x2="2009.5" y2="1150.5" stroke="#262626" stroke-width="2"/>
<text x="2043" y="1168.5" class="cb">40</text>
<line x1="2026.5" y1="887.1" x2="2009.5" y2="887.1" stroke="#262626" stroke-width="2"/>
<text x="2043" y="905.1" class="cb">50</text>
<line x1="2026.5" y1="623.6" x2="2009.5" y2="623.6" stroke="#262626" stroke-width="2"/>
<text x="2043" y="641.6" class="cb">60</text>
<line x1="2026.5" y1="360.2" x2="2009.5" y2="360.2" stroke="#262626" stroke-width="2"/>
<text x="2043" y="378.2" class="cb">70</text>
<line x1="2026.5" y1="96.7" x2="2009.5" y2="96.7" stroke="#262626" stroke-width="2"/>
<text x="2043" y="114.7" class="cb">80</text>
<rect x="1967.2" y="20.3" width="59.3" height="1657.1" fill="none" stroke="#262626" stroke-width="2"/>
</svg>
</body></html>
